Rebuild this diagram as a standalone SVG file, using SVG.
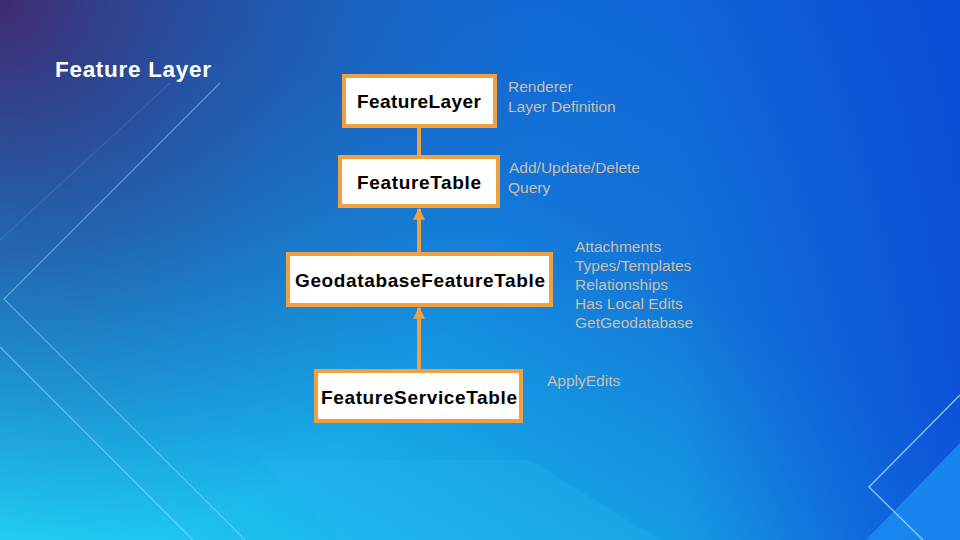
<svg xmlns="http://www.w3.org/2000/svg" width="960" height="540" viewBox="0 0 960 540">
<defs>
<linearGradient id="bg" x1="0" y1="1" x2="1" y2="0">
<stop offset="0" stop-color="#22d2f4"/>
<stop offset="0.3" stop-color="#16a6e6"/>
<stop offset="0.6" stop-color="#1374d8"/>
<stop offset="1" stop-color="#0e5cd6"/>
</linearGradient>
<radialGradient id="purple" cx="0" cy="0" r="560" gradientUnits="userSpaceOnUse">
<stop offset="0" stop-color="#402a70" stop-opacity="1"/>
<stop offset="0.45" stop-color="#284a98" stop-opacity="0.7"/>
<stop offset="1" stop-color="#1a60b8" stop-opacity="0"/>
</radialGradient>
<linearGradient id="right" x1="680" y1="0" x2="960" y2="0" gradientUnits="userSpaceOnUse">
<stop offset="0" stop-color="#0a48d8" stop-opacity="0"/>
<stop offset="1" stop-color="#0a48d8" stop-opacity="0.75"/>
</linearGradient>
<marker id="tri" viewBox="0 0 10 10" refX="9" refY="5" markerWidth="3" markerHeight="3" orient="auto">
<path d="M0,0 L10,5 L0,10 z" fill="#f0a040"/>
</marker>
<style>
.box{fill:#ffffff;stroke:#f0a040;stroke-width:4}
.nt{font-family:"Liberation Sans",Arial,sans-serif;font-weight:bold;font-size:19px;fill:#000000;text-anchor:middle}
.side{font-family:"Liberation Sans",Arial,sans-serif;font-size:15.5px;fill:#cbbfa8}
.conn{stroke:#f0a040;stroke-width:4;fill:none}
.deco{stroke:#9fd8ff;fill:none}
</style>
</defs>
<g id="background">
<rect width="960" height="540" fill="url(#bg)"/>
<rect width="960" height="540" fill="url(#purple)"/>
<rect width="960" height="540" fill="url(#right)"/>
<polygon points="260,460 530,460 660,540 340,540" fill="#30b8f4" opacity="0.2"/>
<polygon points="866,540 960,443 960,540" fill="#1a8cf2" opacity="0.85"/>
<line class="deco" x1="170" y1="83" x2="0" y2="240" stroke-width="1" opacity="0.2"/>
<polyline class="deco" points="220,83 4,299 245,540" stroke-width="1.2" opacity="0.5"/>
<line class="deco" x1="0" y1="347" x2="193" y2="540" stroke-width="1.2" opacity="0.6"/>
<polyline class="deco" points="960,395 869,487 923,540" stroke-width="1.5" opacity="0.8"/>
</g>
<text x="55" y="77" font-family="'Liberation Sans',Arial,sans-serif" font-weight="bold" font-size="22.5" fill="#ffffff" textLength="156" lengthAdjust="spacing">Feature Layer</text>
<g id="connectors">
<line class="conn" x1="419" y1="128" x2="419" y2="155"/>
<line class="conn" x1="419" y1="252" x2="419" y2="209" marker-end="url(#tri)"/>
<line class="conn" x1="419" y1="369" x2="419" y2="308" marker-end="url(#tri)"/>
</g>
<g id="node-featurelayer">
<rect class="box" x="344" y="76" width="151" height="50"/>
<text class="nt" x="419" y="108" textLength="124" lengthAdjust="spacing">FeatureLayer</text>
</g>
<g id="node-featuretable">
<rect class="box" x="340" y="157" width="158" height="49"/>
<text class="nt" x="419" y="189" textLength="124" lengthAdjust="spacing">FeatureTable</text>
</g>
<g id="node-geodatabasefeaturetable">
<rect class="box" x="288" y="254" width="263" height="51"/>
<text class="nt" x="420" y="287" textLength="250" lengthAdjust="spacing">GeodatabaseFeatureTable</text>
</g>
<g id="node-featureservicetable">
<rect class="box" x="316" y="371" width="205" height="50"/>
<text class="nt" x="419" y="404" textLength="196" lengthAdjust="spacing">FeatureServiceTable</text>
</g>
<g id="labels">
<text class="side" x="508" y="92">Renderer</text>
<text class="side" x="508" y="112">Layer Definition</text>
<text class="side" x="509" y="173">Add/Update/Delete</text>
<text class="side" x="508" y="193">Query</text>
<text class="side" x="575" y="252">Attachments</text>
<text class="side" x="575" y="271">Types/Templates</text>
<text class="side" x="575" y="290">Relationships</text>
<text class="side" x="575" y="309">Has Local Edits</text>
<text class="side" x="575" y="328">GetGeodatabase</text>
<text class="side" x="547" y="386">ApplyEdits</text>
</g>
</svg>
